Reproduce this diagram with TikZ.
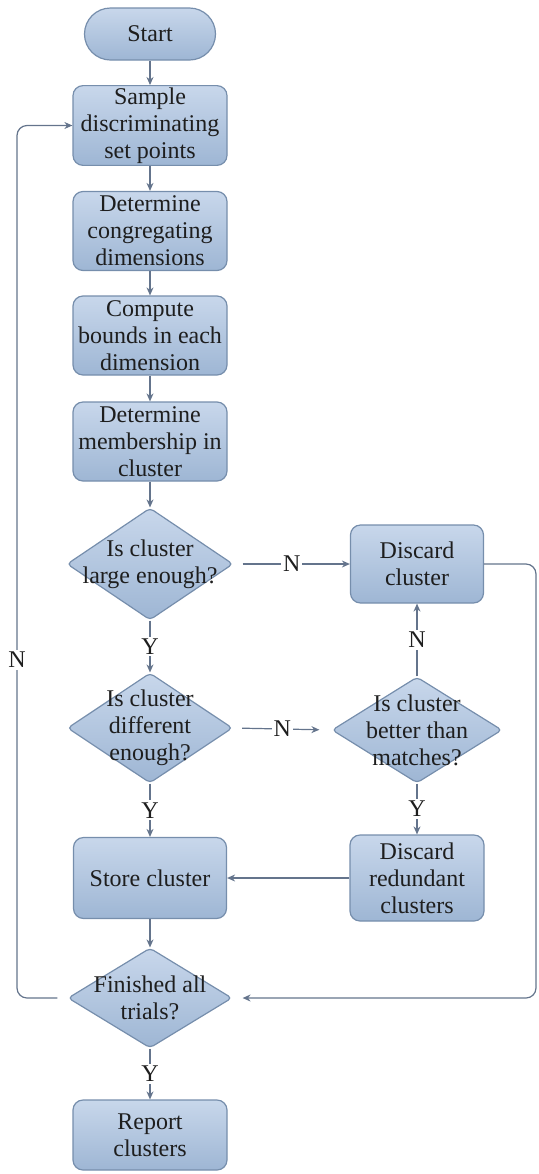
\documentclass[tikz,border=0pt]{standalone}
\usepackage{fontspec}
\setmainfont{Liberation Serif}
\usetikzlibrary{shapes.geometric,arrows.meta}
\definecolor{topc}{RGB}{200,215,235}
\definecolor{botc}{RGB}{158,182,212}
\definecolor{bordc}{RGB}{118,142,172}
\definecolor{arrc}{RGB}{100,116,140}
\definecolor{txtc}{RGB}{30,30,30}
\tikzset{
  boxs/.style={draw=bordc, line width=0.6pt, rounded corners=5pt, top color=topc, bottom color=botc,
    minimum width=77pt, minimum height=39.5pt, align=center, inner sep=1pt, text=txtc,
    font=\fontsize{12}{13.5}\selectfont},
  dia/.style={diamond, draw=bordc, line width=0.6pt, top color=topc, bottom color=botc,
    inner sep=0pt, rounded corners=2pt},
  txt/.style={align=center, text=txtc, inner sep=0pt, font=\fontsize{12}{13.5}\selectfont},
  arr/.style={draw=arrc, line width=0.6pt, -{Stealth[length=4pt,width=3.5pt]}},
  lab/.style={fill=white, inner sep=1pt, text=txtc, font=\fontsize{12}{13.5}\selectfont}
}
\begin{document}
\begin{tikzpicture}[x=0.5pt,y=-0.5pt]
\useasboundingbox (0,0) rectangle (538,1174);
% main column
\node[boxs, rounded corners=13pt, minimum width=65.5pt, minimum height=26pt] (start) at (150,34) {Start};
\node[boxs] (sample) at (150,125.5) {Sample\\discriminating\\set points};
\node[boxs] (cong) at (150,231) {Determine\\congregating\\dimensions};
\node[boxs] (bounds) at (150,335.5) {Compute\\bounds in each\\dimension};
\node[boxs] (member) at (150,441.5) {Determine\\membership in\\cluster};
\node[dia, minimum width=83pt, minimum height=56pt] (d1) at (150,564) {};
\node[txt] (d1t) at (150,564) {Is cluster\\large enough?};
\node[dia, minimum width=82.5pt, minimum height=55pt] (d2) at (150,728) {};
\node[txt] (d2t) at (150,728) {Is cluster\\different\\enough?};
\node[boxs, minimum width=76.5pt, minimum height=40.5pt] (store) at (150,878) {Store cluster};
\node[dia, minimum width=82pt, minimum height=50pt] (d4) at (150,998) {};
\node[txt] (d4t) at (150,998) {Finished all\\trials?};
\node[boxs, minimum height=35pt] (report) at (150,1135) {Report\\clusters};
% right column
\node[boxs, minimum width=66.5pt, minimum height=39pt] (discard) at (417,564) {Discard\\cluster};
\node[dia, minimum width=85pt, minimum height=53pt] (d3) at (417,730) {};
\node[txt] (d3t) at (417,730) {Is cluster\\better than\\matches?};
\node[boxs, minimum width=67pt, minimum height=43pt] (redund) at (417,878) {Discard\\redundant\\clusters};
% loop coordinates
\coordinate (lx) at (17,660);
\coordinate (rx) at (536,780);
% connectors
\draw[arr] (start) -- (sample);
\draw[arr] (sample) -- (cong);
\draw[arr] (cong) -- (bounds);
\draw[arr] (bounds) -- (member);
\draw[arr] (member) -- (d1);
\draw[arr] (d1.south) -- node[lab]{Y} (d2.north);
\draw[arr, shorten <=4.5pt] (d1.east) -- node[lab]{N} (discard.west);
\draw[arr, shorten <=4.5pt, shorten >=6pt] (d2.east) -- node[lab]{N} (d3.west);
\draw[arr] (d3.north) -- node[lab]{N} (discard.south);
\draw[arr] (d3.south) -- node[lab]{Y} (redund.north);
\draw[arr] (d2.south) -- node[lab]{Y} (store.north);
\draw[arr] (redund.west) -- (store.east);
\draw[arr] (store) -- (d4);
\draw[arr] (d4.south) -- node[lab]{Y} (report.north);
\draw[arr, rounded corners=5pt, shorten <=5pt] (d4.west) -| (lx) node[lab]{N} |- (sample.west);
\draw[arr, rounded corners=5pt, shorten >=5pt] (discard.east) -| (rx) |- (d4.east);
\end{tikzpicture}
\end{document}
